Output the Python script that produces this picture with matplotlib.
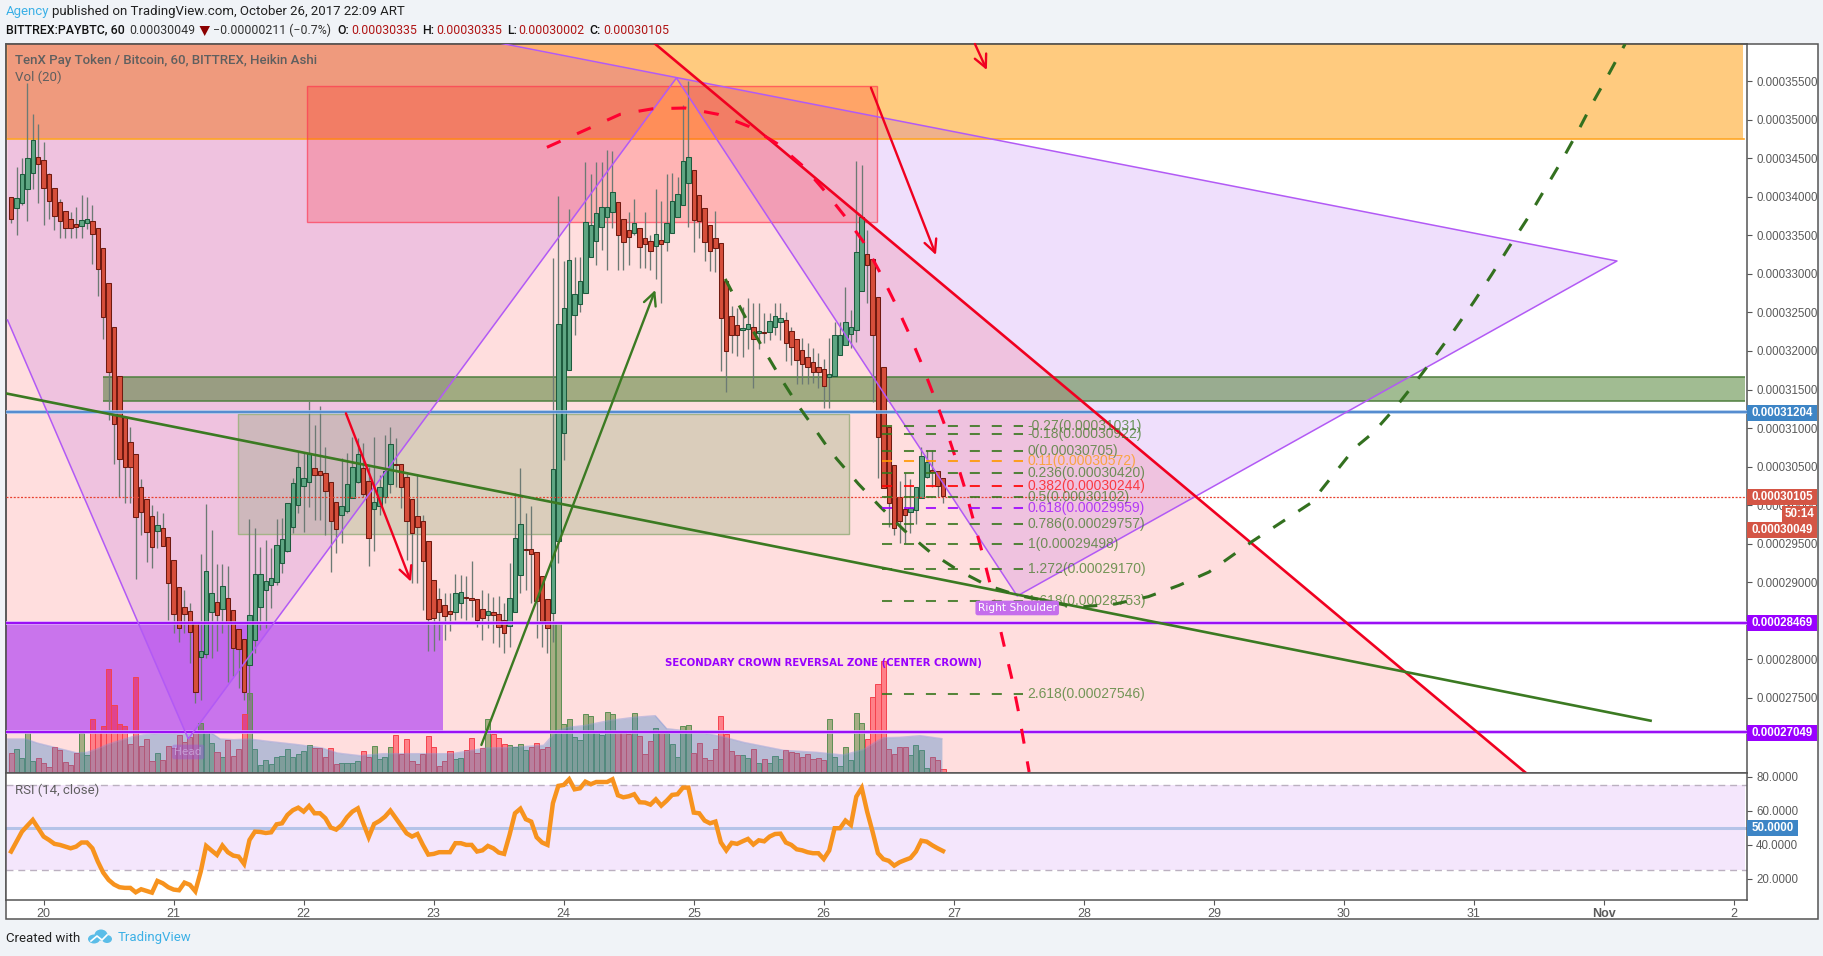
import numpy as np
import matplotlib
matplotlib.use('Agg')
import matplotlib.pyplot as plt
from matplotlib.patches import Rectangle, Polygon, Ellipse

W, H = 1824, 956
plt.rcParams['font.family'] = ['Liberation Sans', 'DejaVu Sans']

# Heikin Ashi candles, hourly, prices in satoshi (1e-8 BTC), bar 0 = Oct 19 18:00
opens = [33994,33851,33916,34098,34306,34513,34474,34293,34111,33929,
         33812,33709,33644,33618,33657,33683,33592,33332,32878,32307,
         31671,31148,30814,30659,30239,30074,29862,29659,29698,29581,
         29283,28932,28672,28621,28486,28032,28062,28608,28737,28647,
         28789,28634,28387,28257,27920,28244,28672,28893,28958,28997,
         29244,29399,29711,29997,30243,30295,30477,30438,30412,30295,
         30035,29867,29919,30087,30295,30477,30308,29945,29984,30100,
         30269,30537,30529,30369,30074,29854,29789,29529,29023,28776,
         28698,28621,28608,28724,28802,28789,28776,28646,28577,28608,
         28582,28504,28426,28608,29088,29425,29425,29395,29075,28776,
         28595,29534,30936,31749,32463,32605,32748,33215,33423,33605,
         33735,33800,33929,33709,33566,33527,33592,33462,33423,33358,
         33436,33410,33527,33735,33890,34176,34345,34020,33851,33631,
         33462,33397,32904,32449,32333,32268,32281,32307,32229,32242,
         32242,32307,32372,32398,32255,32151,32008,31917,31852,31787,
         31761,31658,31671,31943,32073,32216,32268,32774,33254,33190,
         32696,31788,31009,30516,30100,29945,29906,29932,30087,30360,
         30451,30438,30347]
closes = [33708,33981,34293,34500,34734,34422,34111,33942,33747,33683,
          33592,33592,33605,33696,33709,33514,33059,32436,31722,31047,
          30594,30490,30490,29841,29906,29646,29460,29737,29464,28984,
          28582,28400,28582,28348,27569,28101,29140,28854,28569,28949,
          28465,28140,28127,27569,28569,29101,29101,29010,29049,29477,
          29555,30023,30282,30490,30347,30672,30386,30386,30178,29789,
          29685,29984,30269,30490,30659,30139,29568,30035,30230,30438,
          30788,30516,30230,29789,29633,29711,29270,28517,28530,28608,
          28556,28582,28854,28867,28789,28763,28504,28530,28621,28569,
          28413,28335,28789,29568,29750,29412,29360,28750,28491,28400,
          30464,32350,32558,33176,32735,32904,33678,33631,33787,33864,
          33864,34059,33501,33410,33475,33657,33345,33384,33293,33514,
          33384,33657,33942,34033,34462,34514,33696,33683,33410,33293,
          33332,32424,31995,32203,32203,32294,32346,32151,32255,32229,
          32385,32449,32424,32099,32047,31878,31826,31787,31723,31723,
          31541,31697,32203,32203,32372,32307,33280,33735,33112,32203,
          30880,30222,30023,29698,29789,29867,29958,30230,30633,30555,
          30425,30243,30113]
highs = [33994,34383,34500,35483,35072,34942,34708,34310,34111,33968,
         33812,33799,33869,34020,33994,33890,33592,33332,32878,32307,
         31671,31148,31018,30659,30334,30074,30001,29923,29893,29581,
         29283,28932,28898,28724,28486,29365,30014,29676,29231,29231,
         29209,28634,28387,28257,29815,29698,29460,29547,29438,29819,
         29828,30023,30347,30693,30693,31355,31039,31286,30758,30295,
         30035,30607,30672,30888,30866,30801,30499,30888,30390,30910,
         31018,30866,30529,30403,30074,30403,29871,29529,29023,28919,
         28854,28854,29105,29092,29079,29274,28776,28898,28854,28802,
         28820,28724,29244,30152,30477,29893,29988,29395,29075,28776,
         33207,34012,33168,33843,33224,33215,34449,34293,34449,34449,
         34604,34591,33929,33709,33800,33968,33592,33800,33505,34098,
         33947,34293,34310,34263,35189,35509,34345,34020,33851,33631,
         33813,33397,32904,32584,32553,32566,32683,32618,32618,32488,
         32488,32618,32618,32510,32315,32151,32164,32099,32034,31969,
         31891,32164,32372,32380,32826,32532,34462,34410,33570,33190,
         32696,31788,31009,30516,30313,30412,30343,30230,30754,30715,
         30715,30438,30347]
lows = [33665,33509,33895,33691,34107,33916,33639,33717,33574,33470,
        33470,33470,33470,33470,33579,33133,32718,32159,31108,30537,
        30109,30023,30023,29045,29611,29265,29187,29438,29464,28508,
        28335,28227,28335,27954,27426,27470,28010,28019,28106,28344,
        27708,27781,27621,27470,27470,28075,28378,28400,28660,28962,
        29114,29395,29633,29893,29655,29979,29806,29806,29611,29135,
        29373,29512,29893,30087,30282,30109,29213,29404,29871,30023,
        30152,30239,29958,29287,28984,28984,28638,28110,28110,28248,
        28248,28370,28508,28530,28508,28551,28413,28248,28400,28205,
        28162,28075,28162,28608,28854,28897,28724,28270,28162,28075,
        28227,29250,30585,31749,32207,32510,32748,33215,33116,33311,
        33051,33592,33051,33051,33116,33505,33073,33073,33051,32938,
        32618,33298,33527,33735,33890,33613,33289,33462,33168,33038,
        33021,31740,31472,31969,31935,31926,32021,31515,32021,32099,
        32142,32203,32142,31874,31813,31567,31567,31567,31580,31515,
        31255,31264,31671,31943,32073,32034,32121,32774,32618,31342,
        30352,30222,29720,29612,29512,29512,29633,29754,30087,30347,
        30239,30109,30023]

# volume per bar, arbitrary units
volume = [60,72,45,127,35,45,30,18,78,70,33,24,60,121,54,162,122,141,312,204,
          147,141,88,288,81,102,36,60,40,81,75,114,93,108,125,150,123,90,63,48,
          99,51,72,177,240,72,23,39,27,48,51,72,48,58,67,84,75,75,48,75,
          28,30,30,30,36,67,48,81,43,48,78,114,58,102,36,28,58,111,78,21,
          36,66,42,45,69,105,60,75,162,118,105,88,83,78,87,69,78,90,72,78,
          453,453,147,162,108,99,177,171,123,114,183,177,126,123,117,180,111,57,96,135,
          120,120,87,48,141,144,60,90,45,39,72,171,117,66,54,54,45,72,30,42,
          30,51,42,69,63,60,48,57,42,45,39,162,48,21,78,39,180,150,102,228,
          267,336,72,57,78,78,54,84,69,15,48,39,12]
vol_up = [1,2,3,4,13,14,27,35,36,37,39,44,45,46,47,48,49,50,51,52,53,54,55,
          61,62,63,64,67,68,69,70,82,83,88,92,93,94,95,
          100,101,102,103,104,105,106,107,108,109,110,111,115,119,121,122,123,124,125,
          135,136,138,140,141,142,151,152,153,154,155,156,157,166,167,168,169]
vol_ma_bar = [-0.8,2.7,4.8,8.5,12.2,14,15.9,17.7,19.6,22.6,25.7,30.6,34.9,36.8,38.6,41.1,44,47.5,53,
              57.4,60.2,64.4,68.7,75.7,81.4,87.7,91.3,98.3,99.5,100.7,103.2,105.7,110.6,114.9,118.9,
              121,127.2,131,135.2,138.9,142.6,148.7,153.6,157.3,159.8,161,164,167.8,171.8]
vol_ma = [102,102,90,75,60,62,72,85,95,110,118,122,124,122,102,100,102,95,85,
          75,60,52,58,58,58,75,76,83,105,127,138,142,158,167,172,
          133,122,110,92,80,68,62,54,70,95,106,107,112,103]

rsi = [36.0,41.8,47.7,51.2,54.6,49.7,44.8,42.8,40.5,39.9,38.9,37.9,38.9,41.3,41.3,37.9,30.1,23.6,19.3,16.6,
       15.0,14.6,14.6,12.0,13.8,12.8,11.8,18.7,17.3,15.0,13.6,13.2,17.7,16.4,12.6,24.2,39.3,36.6,34.0,39.5,
       35.6,33.6,33.0,28.7,42.8,47.7,47.5,46.9,47.3,52.0,52.6,57.5,60.3,61.8,59.5,62.8,58.5,58.5,55.6,50.1,
       48.9,51.6,56.2,59.5,61.4,52.6,44.4,52.2,54.0,56.5,60.1,55.6,51.1,46.7,44.8,46.3,39.9,34.2,34.6,35.6,
       35.6,35.6,40.9,40.9,39.9,39.9,36.0,36.7,39.3,37.9,35.4,34.6,45.8,58.5,61.2,55.0,53.6,44.4,41.3,39.9,
       64.4,74.6,75.2,78.5,72.6,73.2,77.1,75.6,76.9,76.9,76.9,78.5,69.1,67.9,68.5,69.7,65.0,64.8,63.6,66.7,
       63.0,65.9,69.3,69.7,73.6,73.6,58.9,58.5,54.2,52.6,53.6,41.4,36.7,41.1,40.5,42.0,43.4,40.1,42.6,42.0,
       44.8,46.3,46.5,41.3,39.9,37.3,36.7,35.6,35.0,35.0,31.6,36.6,49.7,49.7,54.2,51.6,68.3,73.4,59.5,47.7,
       35.0,31.5,30.5,27.7,29.7,31.0,32.2,36.0,42.4,41.8,39.7,37.9,36.3]

# horizontal levels, satoshi
level_blue = 31204
levels_purple = [28469, 27049]
last_ha_close = 30105
orange_zone_low = 34748
green_band = [31351, 31659]

# drawing tool anchors (bar index, satoshi)
pattern_bars = [-0.66, 32.7, 122.8, 185.7, 296.4, 90.1]
pattern_vals = [32402, 26964, 35544, 28820, 33168, 35998]
red_line_bars = [118.9, 279.6]
red_line_vals = [35985, 26522]
green_line_bars = [-0.85, 302.6]
green_line_vals = [31448, 27201]
red_curve_bars = [98.9,112.4,118.5,124.4,130.5,136.1,141.3,146.3,149.9,153.8,157.3,160.3,163.0,165.5,
                  167.9,170.1,172.2,174.1,175.9,177.5,179.1,180.6,181.9,183.3,184.7,185.9,187.9]
red_curve_vals = [34644,35072,35145,35154,35072,34917,34696,34392,34099,33756,33419,33029,32645,32263,
                  31861,31458,31061,30659,30248,29836,29421,29005,28595,28171,27751,27331,26535]
green_curve_bars = [131.8,135.8,138.9,142.0,145.2,148.7,150.7,152.4,156.4,160.4,164.9,169.6,174.7,180.1,
                    185.6,195.1,197.9,203.8,209.9,215.6,221.1,229.2,239.9,248.0,251.4,255.5,259.3,263.0,
                    266.6,270.0,273.3,276.6,279.9,283.0,286.1,289.0,291.8,294.8,297.9]
green_curve_vals = [32935,32402,32022,31653,31299,30952,30750,30598,30274,29979,29668,29391,29157,28959,
                    28833,28694,28681,28716,28811,28959,29131,29534,30027,30741,30939,31264,31602,31948,
                    32295,32640,32995,33363,33722,34090,34457,34826,35206,35583,35985]

# fib retracement
fib_names = ['-0.27','-0.18','0','0.11','0.236','0.382','0.5','0.618','0.786','1','1.272','1.618','2.618']
fib_prices = [31031,30922,30705,30572,30420,30244,30102,29959,29757,29498,29170,28753,27546]
fib_colors = ['g','g','g','o','g','r','g','p','g','g','g','g','g']

day_labels = ['20','21','22','23','24','25','26','27','28','29','30','31','Nov','2']


def px(x, y):
    return x / W, 1 - y / H


def pane(x0, y0, x1, y1, **kw):
    return fig.add_axes([x0 / W, 1 - y1 / H, (x1 - x0) / W, (y1 - y0) / H], **kw)


fig = plt.figure(figsize=(W / 100, H / 100), dpi=100, facecolor='#F0F3F7')
bg = Rectangle(px(6, 919), 1811.7 / W, 875 / H, transform=fig.transFigure, fc='white', ec='#555555', lw=1.1)
fig.add_artist(bg)

bars = np.arange(len(opens))
xlim = (-0.85, 320.4)
ylim = (26522, 35985)

# zones sit at the bottom, then volume, then candles and drawings
ax_zone = pane(6.5, 44, 1747, 773, zorder=1)
ax_zone.set_xlim(xlim)
ax_zone.set_ylim(ylim)
ax_zone.axis('off')
ax_zone.add_patch(Rectangle((xlim[0], orange_zone_low), 320.6, ylim[1] - orange_zone_low,
                            fc=(1, 0.6, 0, 0.5), lw=0, zorder=0.5))
ax_zone.plot([xlim[0], 319.8], [orange_zone_low, orange_zone_low], color='#FFA726', lw=1.2, zorder=2)
ax_zone.add_patch(Polygon([(red_line_bars[0], red_line_vals[0]), (red_line_bars[1], red_line_vals[1]),
                           (xlim[0], ylim[0]), (xlim[0], ylim[1])], fc=(1, 0, 0, 0.13), lw=0, zorder=1))
lilac = (0.52, 0.035, 0.91, 0.13)
ax_zone.add_patch(Polygon([(pattern_bars[0], ylim[1]), (pattern_bars[5], ylim[1]), (pattern_bars[2], pattern_vals[2]),
                           (pattern_bars[1], pattern_vals[1]), (pattern_bars[0], pattern_vals[0])],
                          fc=lilac, lw=0, zorder=1))
ax_zone.add_patch(Polygon([(pattern_bars[2], pattern_vals[2]), (pattern_bars[4], pattern_vals[4]),
                           (pattern_bars[3], pattern_vals[3])], fc=lilac, lw=0, zorder=1))
ax_zone.add_patch(Rectangle((54.7, 33674), 105.1, 1771, fc=(1, 0, 0, 0.19), ec=(1, 0.2, 0.3, 0.65), lw=1, zorder=2))
ax_zone.add_patch(Rectangle((41.9, 29625), 112.8, 1557, fc=(0.45, 0.62, 0.35, 0.26), ec='#A4B388', lw=1, zorder=2))
ax_zone.add_patch(Rectangle((16.9, green_band[0]), 303.1, green_band[1] - green_band[0],
                            fc=(0.27, 0.48, 0.15, 0.5), lw=0, zorder=2))
ax_zone.hlines(green_band, 16.9, 320, color='#4F7F3F', lw=1.1, zorder=2)
ax_zone.add_patch(Rectangle((xlim[0], levels_purple[1]), 80.65, levels_purple[0] - levels_purple[1],
                            fc=(0.6, 0.08, 0.98, 0.52), lw=0, zorder=2))

ax_vol = pane(6.5, 44, 1747, 773, zorder=2)
ax_vol.patch.set_alpha(0)
ax_vol.set_xlim(xlim)
ax_vol.set_ylim(0, 2187)
ax_vol.axis('off')
vol_cols = ['u' if i in vol_up else 'd' for i in bars]
for kind, fc, ec in (('u', (0.31, 0.49, 0.16, 0.5), '#5D8F54'), ('d', (1, 0, 0.07, 0.42), '#F4424E')):
    idx = [i for i in bars if vol_cols[i] == kind]
    ax_vol.bar(idx, [volume[i] for i in idx], width=0.94, fc=fc, ec=ec, lw=0.7)
ax_vol.fill_between(vol_ma_bar, 0, vol_ma, color=(0.235, 0.51, 0.78, 0.36), lw=0)
ax_vol.plot(vol_ma_bar, vol_ma, color=(0.45, 0.55, 0.85, 0.4), lw=1)

ax = pane(6.5, 44, 1747, 773, zorder=3)
ax.patch.set_alpha(0)
ax.set_xlim(xlim)
ax.set_ylim(ylim)

# candles
up = np.array(closes) >= np.array(opens)
top = np.maximum(opens, closes)
bot = np.minimum(opens, closes)
ax.vlines(bars, lows, highs, color='#6C7A74', lw=0.95, zorder=3)
ax.bar(bars[up], (top - bot)[up], bottom=bot[up], width=0.82, fc='#5FA683', ec='#1E5B3E', lw=0.75, zorder=4)
ax.bar(bars[~up], (top - bot)[~up], bottom=bot[~up], width=0.82, fc='#D64F3B', ec='#701A10', lw=0.75, zorder=4)

# levels
ax.axhline(level_blue, color='#A9C6E8', lw=2.6, zorder=5)
ax.axhline(level_blue, color='#3D7CC9', lw=1.1, zorder=5)
for lv in levels_purple:
    ax.axhline(lv, color='#D9A6FF', lw=2.6, zorder=5)
    ax.axhline(lv, color='#9400F5', lw=1.3, zorder=5)
ax.axhline(last_ha_close, color='#E8412F', lw=0.9, ls=(0, (1.6, 1.3)), zorder=5)

# pattern, trend lines
ax.plot(pattern_bars, pattern_vals, color='#B25AF5', lw=1.1, zorder=6)
ax.plot(red_line_bars, red_line_vals, color='#F00020', lw=1.9, zorder=6)
ax.plot(green_line_bars, green_line_vals, color='#3B7A22', lw=1.9, zorder=6)
ax.plot(red_curve_bars, red_curve_vals, color='#FF0030', lw=2.2, ls=(0, (4.9, 5.9)), zorder=6)
ax.plot(green_curve_bars, green_curve_vals, color='#33701F', lw=2.2, ls=(0, (4.6, 5.2)), zorder=6)


def arrow(x0, y0, x1, y1, col):
    ax.annotate('', xy=(x1, y1), xytext=(x0, y0), zorder=6, annotation_clip=True,
                arrowprops=dict(arrowstyle='->,head_length=0.65,head_width=0.32', color=col, lw=1.7,
                                shrinkA=0, shrinkB=0, mutation_scale=14))


arrow(86.8, 26886, 118.9, 32792, '#3B7A22')
arrow(61.8, 31191, 73.8, 29005, '#F00020')
arrow(158.7, 35418, 170.7, 33246, '#F00020')
arrow(177.9, 35985, 180.1, 35647, '#F00020')

# fib levels
fib_map = {'g': '#38761D', 'o': '#FF9800', 'r': '#FF0000', 'p': '#9900FF'}
for name, price, c in zip(fib_names, fib_prices, fib_colors):
    ax.plot([160.8, 186.8], [price, price], color=fib_map[c], lw=1.45, ls=(0, (5.0, 5.9)), alpha=0.85, zorder=7)
    ax.text(187.6, price, '%s(0.000%d)' % (name, price), color=fib_map[c], alpha=0.7, fontsize=10,
            va='center', ha='left', zorder=7)

ax.text(150, 27950, 'SECONDARY CROWN REVERSAL ZONE (CENTER CROWN)', color='#9900FF', fontsize=7.3,
        fontweight='bold', family='DejaVu Sans', ha='center', va='center', zorder=7)
ax.text(185.7, 28664, 'Right Shoulder', color='white', fontsize=7.6, family='DejaVu Sans', ha='center', va='center',
        zorder=8, bbox=dict(boxstyle='round,pad=0.22', fc='#C56EEC', ec='none'))
ax.text(32.7, 26795, 'Head', color=(0.85, 0.75, 0.92, 0.6), fontsize=7.6, family='DejaVu Sans', ha='center', va='center',
        zorder=8, bbox=dict(boxstyle='round,pad=0.22', fc=(0.6, 0.3, 0.85, 0.38), ec='none'))

# price scale
ax.yaxis.tick_right()
ticks = np.arange(27500, 35501, 500)
ax.set_yticks(ticks)
ax.set_yticklabels(['0.000%d' % t for t in ticks], color='#5A5A5A', fontsize=8.3)
ax.tick_params(axis='y', length=3.6, width=0.8, color='#555555', pad=3)
ax.set_xticks([])
for s in ax.spines.values():
    s.set_color('#555555')
    s.set_linewidth(1.1)

# RSI pane
ax_rsi = pane(6.5, 773, 1747, 900, zorder=3)
ax_rsi.set_xlim(xlim)
ax_rsi.set_ylim(7.47, 82.2)
ax_rsi.axhspan(25, 75, xmin=0, xmax=0.999, color='#F4E6FC', lw=0)
ax_rsi.axhline(75, color='#BBB0C0', lw=1, ls=(0, (5, 3.5)))
ax_rsi.axhline(25, color='#BBB0C0', lw=1, ls=(0, (5, 3.5)))
ax_rsi.axhline(50, color='#B4C3E8', lw=2.2)
ax_rsi.plot(bars, rsi, color='#F7931E', lw=3.2, solid_joinstyle='miter')
ax_rsi.yaxis.tick_right()
ax_rsi.set_yticks([20, 40, 60, 80])
ax_rsi.set_yticklabels(['20.0000', '40.0000', '60.0000', '80.0000'], color='#5A5A5A', fontsize=8.3)
ax_rsi.tick_params(axis='y', length=3.6, width=0.8, color='#555555', pad=3)
ax_rsi.set_xticks(6 + 24 * np.arange(len(day_labels)))
ax_rsi.set_xticklabels(day_labels, color='#5A5A5A', fontsize=9)
ax_rsi.get_xticklabels()[12].set_fontweight('bold')
ax_rsi.tick_params(axis='x', length=3.6, width=0.8, color='#555555', pad=2)
for s in ax_rsi.spines.values():
    s.set_color('#555555')
    s.set_linewidth(1.1)


# tags on the price scale
def tag(yc, txt, col, x0=1747, x1=1817.5, h=16):
    fig.add_artist(Rectangle(px(x0, yc + h / 2), (x1 - x0) / W, h / H, transform=fig.transFigure, fc=col, lw=0, zorder=10))
    fig.text(*px((x0 + x1) / 2, yc), txt, color='white', fontsize=8.3, fontweight='bold', ha='center', va='center', zorder=11)


tag(412.8, '0.00031204', '#3D85C6')
tag(497, '0.00030105', '#D45545')
tag(514, '50:14', '#D45545', x0=1782, h=17)
tag(530, '0.00030049', '#D45545')
tag(622.5, '0.00028469', '#9900FF')
tag(733, '0.00027049', '#9900FF')
tag(827.7, '50.0000', '#3D85C6', x1=1798)

# header and footer
UI = ['Roboto', 'DejaVu Sans']
fs = 9.5
fs2 = 8.9
fig.text(*px(6, 12), 'Agency', color='#3BB0E6', fontsize=fs, family=UI, va='center', zorder=11)
fig.text(*px(52, 12), 'published on TradingView.com, October 26, 2017 22:09 ART', color='#222222', fontsize=fs,
         family=UI, va='center', zorder=11)
row = 30
fig.text(*px(6, row), 'BITTREX:PAYBTC, 60', color='#111111', fontsize=fs2, family=UI, fontweight='medium', va='center', zorder=11)
fig.text(*px(129, row), '0.00030049', color='#333333', fontsize=fs2, family=UI, va='center', zorder=11)
fig.add_artist(Polygon([px(199.5, 26), px(210, 26), px(204.7, 36)], transform=fig.transFigure, fc='#8B0000', lw=0))
fig.text(*px(213, row), '\u22120.00000211 (\u22120.7%)', color='#333333', fontsize=fs2, family=UI, va='center', zorder=11)
for lab, lx, val, vx in (('O:', 337, '0.00030335', 351), ('H:', 422, '0.00030335', 436),
                         ('L:', 507, '0.00030002', 518), ('C:', 589, '0.00030105', 603)):
    fig.text(*px(lx, row), lab, color='#111111', fontsize=fs2, family=UI, fontweight='medium', va='center', zorder=11)
    fig.text(*px(vx, row), val, color='#B01515', fontsize=fs2, family=UI, va='center', zorder=11)
fig.text(*px(15, 60.5), 'TenX Pay Token / Bitcoin, 60, BITTREX, Heikin Ashi', color='#5F5F5F', fontsize=fs,
         family=UI, fontweight='medium', va='center', zorder=11)
fig.text(*px(15, 77.5), 'Vol (20)', color='#5F5F5F', fontsize=fs, family=UI, va='center', zorder=11)
fig.text(*px(15, 790), 'RSI (14, close)', color='#5F5F5F', fontsize=fs, family=UI, va='center', zorder=11)
fig.text(*px(6, 938), 'Created with', color='#222222', fontsize=fs, family=UI, va='center', zorder=11)
fig.text(*px(118, 938), 'TradingView', color='#3BB0E6', fontsize=fs, family=UI, va='center', zorder=11)

# logo
for cx, cy, w_, h_ in ((94, 939, 12, 9), (101, 935, 13, 11), (107, 939, 10, 8)):
    fig.add_artist(Ellipse(px(cx, cy), w_ / W, h_ / H, transform=fig.transFigure, fc='#5BBDE8', lw=0))
fig.add_artist(plt.Line2D(*zip(px(91, 941), px(97, 936), px(102, 940), px(107, 935)), transform=fig.transFigure,
                          color='white', lw=1.2))

fig.savefig('out.png', dpi=100, facecolor=fig.get_facecolor())
